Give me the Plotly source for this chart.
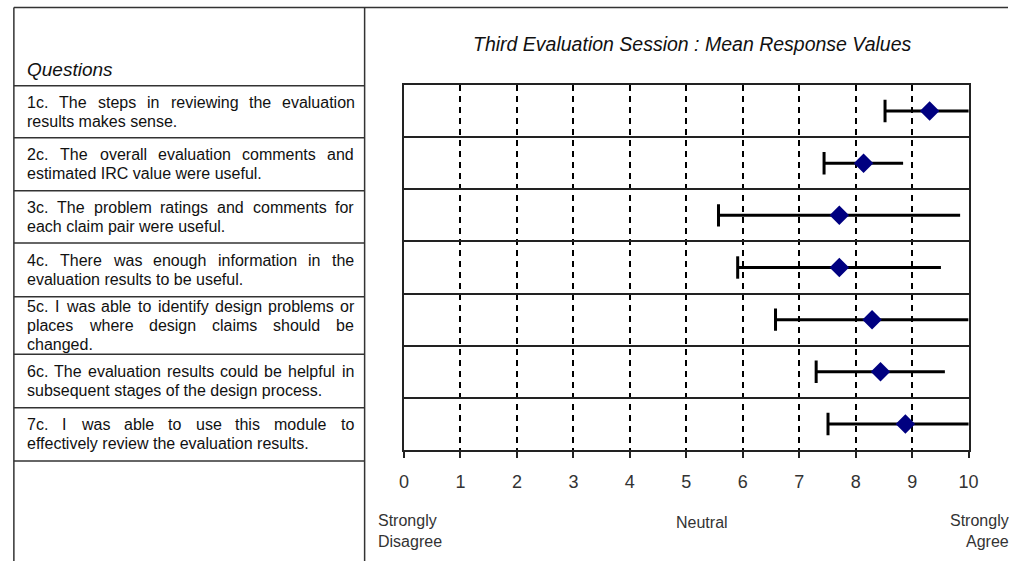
import plotly.graph_objects as go

# ---------------- data ----------------
questions = ["1c", "2c", "3c", "4c", "5c", "6c", "7c"]
question_lines = [
    ["1c. The steps in reviewing the evaluation", "results makes sense."],
    ["2c. The overall evaluation comments and", "estimated IRC value were useful."],
    ["3c. The problem ratings and comments for", "each claim pair were useful."],
    ["4c. There was enough information in the", "evaluation results to be useful."],
    ["5c. I was able to identify design problems or", "places where design claims should be", "changed."],
    ["6c. The evaluation results could be helpful in", "subsequent stages of the design process."],
    ["7c. I was able to use this module to", "effectively review the evaluation results."],
]
means = [9.31, 8.14, 7.71, 7.71, 8.29, 8.44, 8.88]
spread = [0.79, 0.70, 2.14, 1.80, 1.71, 1.14, 1.37]
tick_values = list(range(0, 11))
scale_labels = ["Strongly<br>Disagree", "Neutral", "Strongly<br>Agree"]
title_text = "Third Evaluation Session : Mean Response Values"

# ---------------- layout constants (pixels) ----------------
W, H = 1018, 561
def px(x):
    return x / W
def py(y):
    return 1 - y / H

FONT = "Liberation Sans, Arial, sans-serif"
plot_left, plot_right, plot_top, plot_bottom = 405, 978, 85, 450
table_left, table_right, table_top = 9, 365, 7.5
table_rows = [85.7, 137.7, 190.7, 243, 296.7, 354.3, 407.7, 461]
text_left, text_right = 22, 354
fs = 16
line_h = 19

lower = [m - s for m, s in zip(means, spread)]
upper = [m + s for m, s in zip(means, spread)]
rows = list(range(1, len(questions) + 1))

fig = go.Figure()

# horizontal error segments
ex, ey = [], []
for lo, hi, r in zip(lower, upper, rows):
    ex += [lo, hi, None]
    ey += [r, r, None]
fig.add_trace(go.Scatter(x=ex, y=ey, mode="lines",
                         line=dict(color="black", width=3),
                         hoverinfo="skip", showlegend=False))
# left caps
fig.add_trace(go.Scatter(x=lower, y=rows, mode="markers",
                         marker=dict(symbol="line-ns", size=16,
                                     line=dict(color="black", width=3)),
                         hoverinfo="skip", showlegend=False))
# means
fig.add_trace(go.Scatter(x=means, y=rows, mode="markers",
                         marker=dict(symbol="diamond", size=15, color="#000080",
                                     line=dict(width=0)),
                         text=questions, showlegend=False))

# ---------------- table ----------------
shapes = []
lc = "#333333"
shapes.append(dict(type="line", xref="paper", yref="paper",
                   x0=px(table_left), x1=px(W), y0=py(table_top), y1=py(table_top),
                   line=dict(color=lc, width=1.5)))
for yy in table_rows:
    shapes.append(dict(type="line", xref="paper", yref="paper",
                       x0=px(table_left), x1=px(table_right), y0=py(yy), y1=py(yy),
                       line=dict(color=lc, width=1.5)))
for xx in (table_left, table_right):
    shapes.append(dict(type="line", xref="paper", yref="paper",
                       x0=px(xx), x1=px(xx), y0=py(table_top), y1=0,
                       line=dict(color=lc, width=1.5)))

# Arial / Liberation Sans advance widths (1/1000 em)
AW = {" ": 278, ".": 278, ",": 278, ":": 278}
for ch in "0123456789":
    AW[ch] = 556
AW.update(dict(a=556, b=556, c=500, d=556, e=556, f=278, g=556, h=556, i=222, j=222,
               k=500, l=222, m=833, n=556, o=556, p=556, q=556, r=333, s=500, t=278,
               u=556, v=500, w=722, x=500, y=500, z=500))
AW.update(dict(A=667, B=667, C=722, D=722, E=667, F=611, G=778, H=722, I=278, J=500,
               K=667, L=556, M=833, N=722, O=778, P=667, Q=778, R=722, S=667, T=611,
               U=722, V=667, W=944, X=667, Y=667, Z=611))

def tw(s):
    return sum(AW.get(c, 556) for c in s) / 1000 * fs

annotations = []
for qi, lines in enumerate(question_lines):
    yc = (table_rows[qi] + table_rows[qi + 1]) / 2
    n = len(lines)
    for li, line in enumerate(lines):
        yline = yc + (li - (n - 1) / 2) * line_h
        words = line.split(" ")
        justified = li < n - 1 and len(words) > 1
        if justified:
            total = sum(tw(w) for w in words)
            gap = (text_right - text_left - total) / (len(words) - 1)
            xcur = text_left
            for w in words:
                annotations.append(dict(x=px(xcur), y=py(yline), xref="paper", yref="paper",
                                        text=w, showarrow=False, xanchor="left", yanchor="middle",
                                        borderpad=0, borderwidth=0,
                                        font=dict(family=FONT, size=fs, color="#111111")))
                xcur += tw(w) + gap
        else:
            annotations.append(dict(x=px(text_left), y=py(yline), xref="paper", yref="paper",
                                    text=line, showarrow=False, xanchor="left", yanchor="middle",
                                    borderpad=0, borderwidth=0,
                                    font=dict(family=FONT, size=fs, color="#111111")))

annotations.append(dict(x=px(22), y=py(70), xref="paper", yref="paper",
                        text="<i>Questions</i>", showarrow=False, xanchor="left", yanchor="middle",
                        borderpad=0, borderwidth=0,
                        font=dict(family=FONT, size=19, color="#111111")))

# title
annotations.append(dict(x=px(698), y=py(44), xref="paper", yref="paper",
                        text="<i>" + title_text + "</i>", showarrow=False,
                        xanchor="center", yanchor="middle",
                        font=dict(family=FONT, size=19.5, color="#111111")))

# scale labels
annotations.append(dict(x=px(379), y=py(531), xref="paper", yref="paper",
                        text=scale_labels[0], showarrow=False, xanchor="left", yanchor="middle",
                        align="left", borderpad=0, borderwidth=0,
                        font=dict(family=FONT, size=16, color="#333333")))
annotations.append(dict(x=px(707), y=py(522), xref="paper", yref="paper",
                        text=scale_labels[1], showarrow=False, xanchor="center", yanchor="middle",
                        borderpad=0, borderwidth=0,
                        font=dict(family=FONT, size=16, color="#333333")))
annotations.append(dict(x=px(1019), y=py(531), xref="paper", yref="paper",
                        text=scale_labels[2], showarrow=False, xanchor="right", yanchor="middle",
                        align="right", borderpad=0, borderwidth=0,
                        font=dict(family=FONT, size=16, color="#333333")))

fig.update_layout(
    width=W, height=H,
    margin=dict(l=0, r=0, t=0, b=0),
    paper_bgcolor="white", plot_bgcolor="white",
    showlegend=False,
    shapes=shapes,
    annotations=annotations,
    xaxis=dict(domain=[px(plot_left), px(plot_right)], range=[0, 10],
               tickvals=tick_values, ticktext=[str(v) for v in tick_values],
               showgrid=True, gridcolor="black", gridwidth=1.5, griddash="6px,5px",
               showline=True, mirror=True, linecolor="#222222", linewidth=2,
               ticks="outside", ticklen=6, tickwidth=2, tickcolor="#222222",
               ticklabelstandoff=8,
               tickfont=dict(family=FONT, size=18, color="#333333"),
               zeroline=False, fixedrange=True),
    yaxis=dict(domain=[py(plot_bottom), py(plot_top)], range=[7.5, 0.5],
               tickvals=[r + 0.5 for r in rows[:-1]],
               showgrid=True, gridcolor="#222222", gridwidth=2,
               showticklabels=False, ticks="",
               showline=True, mirror=True, linecolor="#222222", linewidth=2,
               zeroline=False, fixedrange=True),
)

fig.write_html(
    "out.html",
    config={"displayModeBar": False},
    post_script="document.body.style.margin='0';document.body.style.overflow='hidden';",
)
